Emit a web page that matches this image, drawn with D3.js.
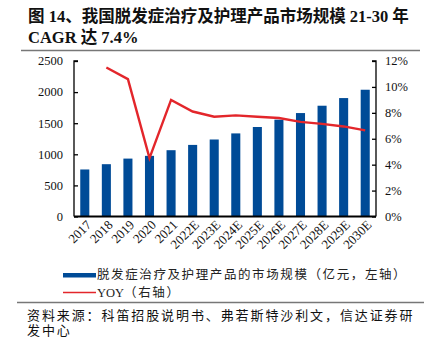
<!DOCTYPE html>
<html><head><meta charset="utf-8">
<script src="https://cdn.jsdelivr.net/npm/d3@7/dist/d3.min.js"></script>
<style>
body{margin:0;background:#fff;}
svg{display:block;font-family:"Liberation Serif","Noto Sans CJK SC",serif;}
</style></head>
<body><svg id="c" width="432" height="339"></svg>
<script>
const categories = ["2017","2018","2019","2020","2021","2022E","2023E","2024E","2025E","2026E","2027E","2028E","2029E","2030E"];
const marketSize = [756, 841, 931, 975, 1066, 1151, 1238, 1336, 1439, 1557, 1663, 1781, 1904, 2038];
const yoyCategories = ["2018","2019","2020","2021","2022E","2023E","2024E","2025E","2026E","2027E","2028E","2029E","2030E"];
const yoy = [11.5, 10.6, 4.5, 9.0, 8.1, 7.7, 7.8, 7.7, 7.6, 7.3, 7.15, 6.95, 6.65];
const leftTicks = [0, 500, 1000, 1500, 2000, 2500];
const rightTicks = [0, 2, 4, 6, 8, 10, 12];
const titleLines = ["图 14、我国脱发症治疗及护理产品市场规模 21-30 年", "CAGR 达 7.4%"];
const legendLabels = [["", "脱发症治疗及护理产品的市场规模（亿元，左轴）"], ["YOY", "（右轴）"]];
const sourceLines = ["资料来源：科笛招股说明书、弗若斯特沙利文，信达证券研", "发中心"];

const svg = d3.select("#c");
const blue = "#004b97", red = "#e3262b";
const L = 74, R = 376, T = 61, B = 216.5;

// title
svg.selectAll("text.title").data(titleLines).join("text")
  .attr("x", 28).attr("y", (d,i)=>22 + i*21)
  .attr("font-size", 16.5).attr("font-weight", "bold").attr("fill", "#111")
  .text(d=>d);
svg.append("line").attr("x1", 21).attr("x2", 420).attr("y1", 50.5).attr("y2", 50.5)
  .attr("stroke", "#777").attr("stroke-width", 1.6);

const x = d3.scaleBand().domain(categories).range([L, R]).paddingInner(0.58).paddingOuter(0.29);
const yL = d3.scaleLinear().domain([0, 2500]).range([B, T]);
const yR = d3.scaleLinear().domain([0, 12]).range([B, T]);

// bars
svg.append("g").selectAll("rect").data(marketSize).join("rect")
  .attr("x", (d,i)=>x(categories[i])).attr("width", x.bandwidth())
  .attr("y", d=>yL(d)).attr("height", d=>B - yL(d)).attr("fill", blue);

// line
const line = d3.line().x((d,i)=>x(yoyCategories[i]) + x.bandwidth()/2).y(d=>yR(d));
svg.append("path").datum(yoy).attr("d", line).attr("fill", "none")
  .attr("stroke", red).attr("stroke-width", 2.4).attr("stroke-linejoin", "miter");

// left axis
const axL = svg.append("g").attr("transform", `translate(${L},0)`)
  .call(d3.axisRight(yL).tickValues(leftTicks).tickSize(4).tickFormat(""));
axL.select(".domain").attr("d", `M4,${T}H0V${B}`).attr("stroke", "#000").attr("stroke-width", 1.3);
axL.selectAll(".tick line").attr("stroke", "#000").attr("stroke-width", 1.3);
svg.append("g").selectAll("text").data(leftTicks).join("text")
  .attr("x", L - 11).attr("y", d=>yL(d)).attr("dy", "0.35em").attr("text-anchor", "end")
  .attr("font-size", 12.5).attr("fill", "#111").text(d=>d);

// right axis
const axR = svg.append("g").attr("transform", `translate(${R},0)`)
  .call(d3.axisLeft(yR).tickValues(rightTicks).tickSize(4).tickFormat(""));
axR.select(".domain").attr("d", `M-4,${T}H0V${B}`).attr("stroke", "#000").attr("stroke-width", 1.3);
axR.selectAll(".tick line").attr("stroke", "#000").attr("stroke-width", 1.3);
svg.append("g").selectAll("text").data(rightTicks).join("text")
  .attr("x", R + 9).attr("y", d=>yR(d)).attr("dy", "0.35em").attr("text-anchor", "start")
  .attr("font-size", 12.5).attr("fill", "#111").text(d=>d + "%");

// x axis
svg.append("line").attr("x1", L).attr("x2", R).attr("y1", B).attr("y2", B)
  .attr("stroke", "#000").attr("stroke-width", 1.8);
svg.append("g").selectAll("text").data(categories).join("text")
  .attr("transform", d=>`translate(${x(d) + x.bandwidth()/2 + 4},${B + 6}) rotate(-45)`)
  .attr("text-anchor", "end").attr("dy", "0.35em")
  .attr("font-size", 13).attr("fill", "#111").text(d=>d);

// legend
svg.append("rect").attr("x", 63).attr("y", 273).attr("width", 33).attr("height", 4.5).attr("fill", blue);
svg.append("line").attr("x1", 63).attr("x2", 96).attr("y1", 292.5).attr("y2", 292.5).attr("stroke", red).attr("stroke-width", 1.6);
const leg = svg.selectAll("text.leg").data(legendLabels).join("text")
  .attr("x", 97).attr("y", (d,i)=>275 + i*18).attr("dy", "0.35em")
  .attr("font-size", 12.5).attr("fill", "#222");
leg.append("tspan").text(d=>d[0]);
leg.append("tspan").attr("letter-spacing", 1.6).text(d=>d[1]);

svg.append("line").attr("x1", 17).attr("x2", 424).attr("y1", 302.5).attr("y2", 302.5)
  .attr("stroke", "#777").attr("stroke-width", 1.4);

svg.selectAll("text.src").data(sourceLines).join("text")
  .attr("x", 27).attr("y", (d,i)=>320 + i*15)
  .attr("font-size", 13).attr("letter-spacing", 1.9).attr("fill", "#111").text(d=>d);
</script></body></html>
